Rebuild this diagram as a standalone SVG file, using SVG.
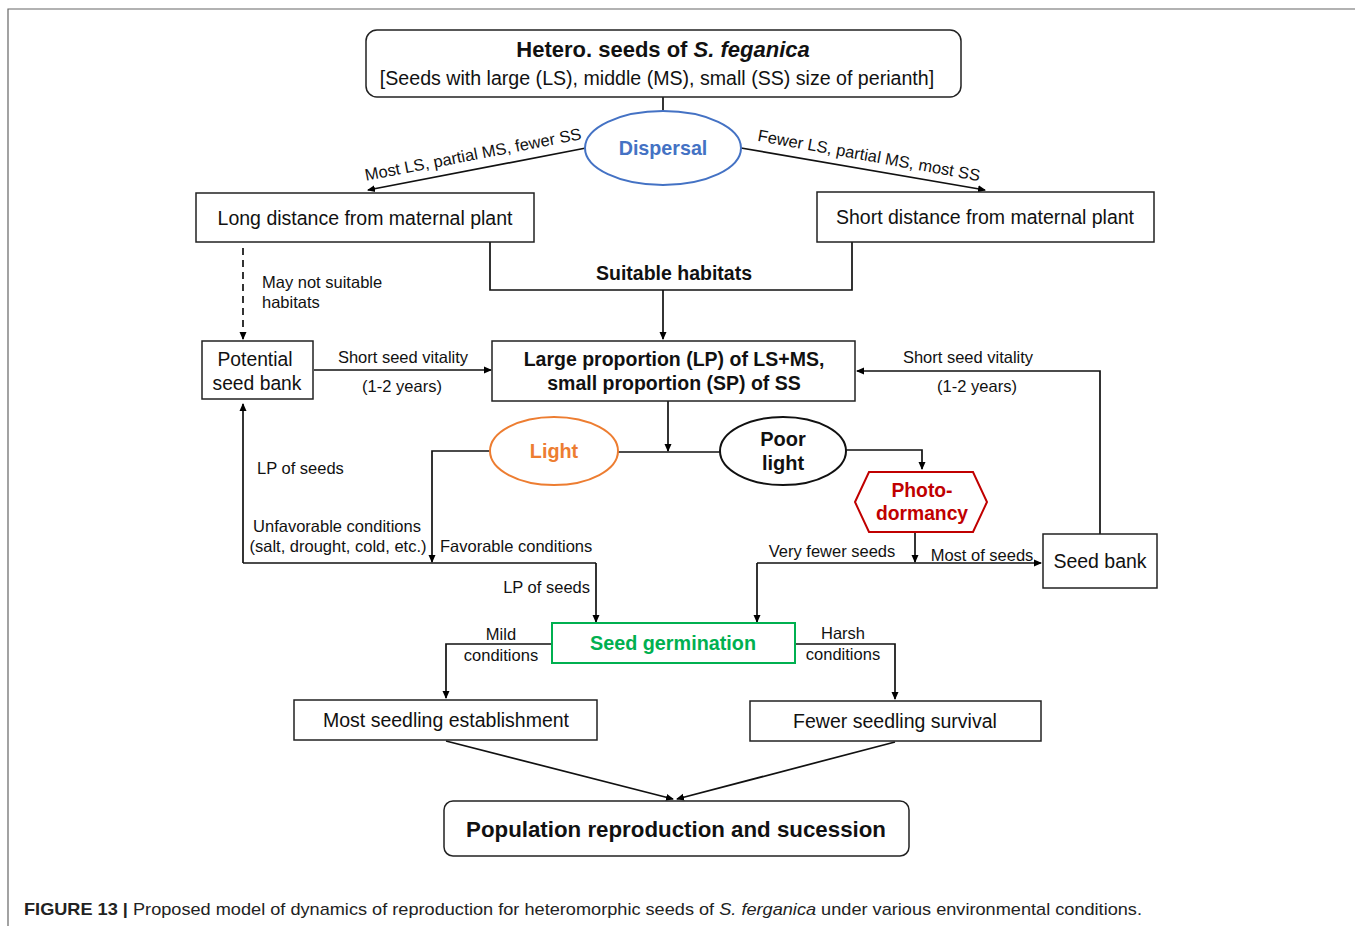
<svg xmlns="http://www.w3.org/2000/svg" width="1355" height="926" viewBox="0 0 1355 926">
<defs>
<marker id="ah" markerWidth="8" markerHeight="8" refX="7" refY="4" orient="auto" markerUnits="userSpaceOnUse">
<path d="M0,0.5 L8,4 L0,7.5 Z" fill="#000"/>
</marker>
<style>
text{font-family:"Liberation Sans",Arial,sans-serif;fill:#111}
.box{fill:#fff;stroke:#222;stroke-width:1.5}
.ln{fill:none;stroke:#111;stroke-width:1.7}
.arr{fill:none;stroke:#111;stroke-width:1.7;marker-end:url(#ah)}
.lbl{font-size:16.5px}
.nt{font-size:19.5px;text-anchor:middle}
.b{font-weight:bold}
.c{text-anchor:middle}
</style>
</defs>
<rect width="1355" height="926" fill="#fff"/>
<path d="M8,926 V9 H1355" fill="none" stroke="#666" stroke-width="1.2"/>

<g id="connectors">
<path class="ln" d="M663,97 V112"/>
<path class="arr" d="M586,148 L368,190"/>
<path class="arr" d="M741,148 L985,190"/>
<path class="ln" d="M490,242 V290 H852 V242"/>
<path class="arr" d="M663,290 V339"/>
<path class="arr" d="M243,248 V339" stroke-dasharray="7,5"/>
<path class="arr" d="M314,370 H491"/>
<path class="arr" d="M1100,534 V371 H857"/>
<path class="arr" d="M668,401 V451"/>
<path class="ln" d="M618,452 H720"/>
<path class="arr" d="M490,451 H432 V562"/>
<path class="arr" d="M243,563 V404"/>
<path class="ln" d="M243,563 H596"/>
<path class="arr" d="M596,563 V622"/>
<path class="arr" d="M846,450 H922 V469"/>
<path class="arr" d="M915,532 V562"/>
<path class="arr" d="M757,563 H1041"/>
<path class="arr" d="M757,563 V622"/>
<path class="arr" d="M552,644 H446 V698"/>
<path class="arr" d="M795,644 H895 V699"/>
<path class="arr" d="M446,741 L673,799"/>
<path class="arr" d="M895,742 L677,799"/>
<text class="lbl" transform="translate(474,160) rotate(-10.9)" text-anchor="middle">Most LS, partial MS, fewer SS</text>
<text class="lbl" transform="translate(868,161) rotate(10.3)" text-anchor="middle">Fewer LS, partial MS, most SS</text>
<text class="b c" x="674" y="280" font-size="19.5">Suitable habitats</text>
<text class="lbl" x="262" y="288">May not suitable</text>
<text class="lbl" x="262" y="308">habitats</text>
<text class="lbl c" x="403" y="363">Short seed vitality</text>
<text class="lbl c" x="402" y="392">(1-2 years)</text>
<text class="lbl c" x="968" y="363">Short seed vitality</text>
<text class="lbl c" x="977" y="392">(1-2 years)</text>
<text class="lbl" x="257" y="474">LP of seeds</text>
<text class="lbl c" x="337" y="532">Unfavorable conditions</text>
<text class="lbl c" x="338" y="552">(salt, drought, cold, etc.)</text>
<text class="lbl" x="440" y="552">Favorable conditions</text>
<text class="lbl" x="590" y="593" text-anchor="end">LP of seeds</text>
<text class="lbl c" x="832" y="557">Very fewer seeds</text>
<text class="lbl c" x="982" y="561">Most of seeds</text>
<text class="lbl c" x="501" y="640">Mild</text>
<text class="lbl c" x="501" y="661">conditions</text>
<text class="lbl c" x="843" y="639">Harsh</text>
<text class="lbl c" x="843" y="660">conditions</text>
</g>

<g id="n-top">
<rect class="box" x="366" y="30" width="595" height="67" rx="11"/>
<text class="b c" x="663" y="57" font-size="22">Hetero. seeds of <tspan font-style="italic">S. feganica</tspan></text>
<text class="c" x="657" y="85" font-size="19.6">[Seeds with large (LS), middle (MS), small (SS) size of perianth]</text>
</g>
<g id="n-dispersal">
<ellipse cx="663" cy="148" rx="78" ry="37" fill="#fff" stroke="#4472C4" stroke-width="2"/>
<text class="b c" x="663" y="155" font-size="19.7" style="fill:#4472C4">Dispersal</text>
</g>
<g id="n-long">
<rect class="box" x="196" y="193" width="338" height="49"/>
<text class="nt" x="365" y="225">Long distance from maternal plant</text>
</g>
<g id="n-short">
<rect class="box" x="817" y="192" width="337" height="50"/>
<text class="nt" x="985" y="224">Short distance from maternal plant</text>
</g>
<g id="n-potential">
<rect class="box" x="202" y="341" width="111" height="58"/>
<text class="c" x="255" y="366" font-size="19.3">Potential</text>
<text class="c" x="257" y="390" font-size="19.3">seed bank</text>
</g>
<g id="n-lp">
<rect class="box" x="492" y="341" width="363" height="60"/>
<text class="b c" x="674" y="366" font-size="19.5">Large proportion (LP) of LS+MS,</text>
<text class="b c" x="674" y="390" font-size="19.5">small proportion (SP) of SS</text>
</g>
<g id="n-light">
<ellipse cx="554" cy="451" rx="64" ry="34" fill="#fff" stroke="#ED7D31" stroke-width="2"/>
<text class="b c" x="554" y="458" font-size="19.8" style="fill:#ED7D31">Light</text>
</g>
<g id="n-poor">
<ellipse cx="783" cy="451" rx="63" ry="34" fill="#fff" stroke="#111" stroke-width="2"/>
<text class="b c" x="783" y="446" font-size="20">Poor</text>
<text class="b c" x="783" y="470" font-size="20">light</text>
</g>
<g id="n-photo">
<polygon points="855,502 869,472 973,472 987,502 973,532 869,532" fill="#fff" stroke="#C00000" stroke-width="2"/>
<text class="b c" x="922" y="497" font-size="19.3" style="fill:#C00000">Photo-</text>
<text class="b c" x="922" y="520" font-size="19.3" style="fill:#C00000">dormancy</text>
</g>
<g id="n-seedbank">
<rect class="box" x="1043" y="534" width="114" height="54"/>
<text class="c" x="1100" y="568" font-size="19.5">Seed bank</text>
</g>
<g id="n-germ">
<rect x="552" y="623" width="243" height="40" fill="#fff" stroke="#00B050" stroke-width="2"/>
<text class="b c" x="673" y="650" font-size="19.8" style="fill:#00B050">Seed germination</text>
</g>
<g id="n-most">
<rect class="box" x="294" y="700" width="303" height="40"/>
<text class="nt" x="446" y="727">Most seedling establishment</text>
</g>
<g id="n-fewer">
<rect class="box" x="750" y="701" width="291" height="40"/>
<text class="nt" x="895" y="728">Fewer seedling survival</text>
</g>
<g id="n-pop">
<rect class="box" x="444" y="801" width="465" height="55" rx="9"/>
<text class="b c" x="676" y="837" font-size="22.3">Population reproduction and sucession</text>
</g>
<g id="caption">
<text x="24" y="915" font-size="17" textLength="1118" lengthAdjust="spacingAndGlyphs" style="fill:#222"><tspan font-weight="bold">FIGURE 13 |</tspan> Proposed model of dynamics of reproduction for heteromorphic seeds of <tspan font-style="italic">S. ferganica</tspan> under various environmental conditions.</text>
</g>
</svg>
